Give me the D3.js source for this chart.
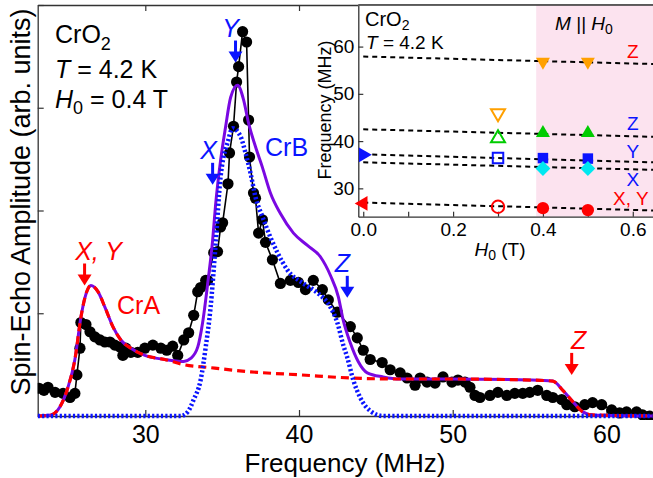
<!DOCTYPE html>
<html>
<head>
<meta charset="utf-8">
<script src="https://cdn.jsdelivr.net/npm/d3@7"></script>
<style>
  body { margin: 0; background: #fff; }
  svg { display: block; font-family: "Liberation Sans", Arial, sans-serif; }
</style>
</head>
<body>
<div id="chart"></div>
<script>
// ---- main spectrum (frequency in MHz, amplitude in arb. units) ----
const echoData = [
  [23.09, 0.27], [23.41, 0.25], [23.67, 0.28], [24.13, 0.23], [24.65, 0.22], [25.10, 0.18],
  [25.42, 0.22], [25.55, 0.40], [25.75, 0.66], [25.81, 0.91], [26.14, 0.89], [26.40, 0.82],
  [26.72, 0.77], [27.05, 0.74], [27.37, 0.72], [27.70, 0.72], [28.02, 0.69], [28.35, 0.67],
  [28.54, 0.59], [28.73, 0.66], [29.06, 0.62], [29.51, 0.62], [29.97, 0.66], [30.49, 0.69],
  [31.01, 0.66], [31.40, 0.64], [31.78, 0.68], [32.11, 0.59], [32.50, 0.74], [32.82, 0.81],
  [33.15, 0.98], [33.41, 1.21], [33.60, 1.25], [33.93, 1.32], [34.06, 1.32], [34.45, 1.59],
  [34.70, 1.60], [34.90, 1.84], [35.03, 1.88], [35.38, 2.26], [35.48, 2.56], [35.74, 2.82],
  [35.94, 3.25], [36.07, 3.40], [36.33, 3.74], [36.59, 3.64], [36.72, 2.88], [36.78, 2.52],
  [37.04, 2.17], [37.17, 2.12], [37.37, 1.78], [37.62, 1.91], [37.82, 1.69], [38.27, 1.52],
  [38.79, 1.29], [39.44, 1.32], [39.96, 1.30], [40.42, 1.23], [40.93, 1.32], [41.52, 1.23],
  [41.91, 1.13], [42.49, 1.01], [43.34, 0.87], [43.79, 0.76], [44.18, 0.64], [44.63, 0.55],
  [45.41, 0.52], [45.93, 0.45], [46.58, 0.42], [47.03, 0.37], [47.55, 0.30], [47.88, 0.37],
  [48.33, 0.33], [48.85, 0.32], [49.37, 0.38], [49.95, 0.33], [50.34, 0.35], [50.80, 0.33],
  [51.12, 0.28], [51.45, 0.20], [51.77, 0.18], [52.42, 0.20], [52.94, 0.23], [53.52, 0.20],
  [54.04, 0.22], [54.56, 0.22], [55.01, 0.23], [55.53, 0.25], [56.12, 0.20], [56.51, 0.18],
  [57.09, 0.16], [57.42, 0.11], [57.94, 0.09], [58.59, 0.11], [59.10, 0.13], [59.69, 0.11],
  [60.34, 0.06], [60.86, 0.03], [61.31, 0.04], [61.96, 0.04], [62.35, 0.01], [62.80, 0.00]
]

const crAFit = [
  [23.0, 0], [23.87, 0.01], [24.45, 0.09], [24.97, 0.28], [25.42, 0.55], [25.81, 0.96],
  [26.07, 1.15], [26.46, 1.27], [26.92, 1.21], [27.37, 1.06], [27.89, 0.87], [28.41, 0.74],
  [29.06, 0.66], [29.97, 0.59], [31.27, 0.55], [32.50, 0.50], [34.25, 0.47], [36.85, 0.43],
  [40.09, 0.40], [43.34, 0.37], [46.58, 0.36], [49.82, 0.36], [55.01, 0.35], [56.51, 0.34],
  [57.16, 0.25], [57.81, 0.14], [58.46, 0.04], [59.10, 0.01], [63.0, 0]
]

const crBFit = [
  [23.0, 0], [32.30, 0], [32.76, 0.04], [33.15, 0.16], [33.60, 0.35], [33.93, 0.67],
  [34.25, 1.06], [34.57, 1.66], [34.90, 2.33], [35.09, 2.52], [35.35, 2.66], [35.68, 2.80],
  [36.20, 2.72], [36.52, 2.56], [36.85, 2.36], [37.17, 2.13], [37.62, 1.94], [38.14, 1.74],
  [38.60, 1.59], [39.25, 1.42], [40.28, 1.29], [41.19, 1.20], [42.04, 1.06], [42.49, 0.91],
  [42.88, 0.69], [43.14, 0.57], [43.53, 0.35], [43.98, 0.18], [44.63, 0.05], [45.47, 0], [63.0, 0]
]

const totalFit = [
  [23.0, 0], [23.87, 0.01], [24.45, 0.09], [24.97, 0.28], [25.42, 0.55], [25.81, 0.96],
  [26.07, 1.15], [26.46, 1.27], [26.92, 1.21], [27.37, 1.06], [27.89, 0.87], [28.41, 0.74],
  [29.06, 0.66], [29.97, 0.59], [31.27, 0.55], [32.50, 0.53], [32.95, 0.56], [33.41, 0.67],
  [33.73, 0.91], [34.06, 1.29], [34.38, 1.71], [34.57, 2.05], [34.90, 2.49], [35.22, 2.81],
  [35.55, 3.10], [36.00, 3.22], [36.39, 3.08], [36.72, 2.85], [37.17, 2.62], [37.62, 2.42],
  [38.14, 2.17], [38.79, 1.97], [39.64, 1.78], [40.55, 1.66], [41.39, 1.55], [42.04, 1.37],
  [42.56, 1.16], [42.88, 0.93], [43.34, 0.71], [43.85, 0.53], [44.44, 0.42], [45.47, 0.38],
  [46.58, 0.36], [49.82, 0.36], [55.01, 0.35], [56.51, 0.34], [57.16, 0.25], [57.81, 0.14],
  [58.46, 0.04], [59.10, 0.01], [63.0, 0]
]

const freqTicks = [30, 40, 50, 60]
const ampTicks = [0, 1, 2, 3, 4]

// arrows: [frequency, amplitude at tip, label, colour]
const mainArrows = [
  [26.05, 1.27, 'X, Y', 'red'],
  [35.87, 3.44, 'Y', 'blue'],
  [34.38, 2.25, 'X', 'blue'],
  [43.14, 1.15, 'Z', 'blue'],
  [57.74, 0.40, 'Z', 'red']
]

// ---- inset: resonance frequency vs field ----
const fieldTicks = [0, 0.2, 0.4, 0.6]
const fieldMinorTicks = [0.1, 0.3, 0.5]
const insetFreqTicks = [30, 40, 50, 60]
const fitField = [0, 0.65]
const fitLines = [[57.9, 56.3], [42.5, 40.9], [37.2, 35.5], [35.5, 33.9], [27.0, 25.3]]
const aligned = 0.385 // M || H0 above this field

const orangeDown = [[0.3, 45.9], [0.4, 56.8], [0.5, 56.8]]
const greenUp = [[0.3, 40.6], [0.4, 41.7], [0.5, 41.7]]
const blueSquare = [[0.3, 36.4], [0.4, 36.4], [0.5, 36.3]]
const cyanDiamond = [[0.4, 34.2], [0.5, 34.2]]
const redCircle = [[0.3, 26.1], [0.4, 25.8], [0.5, 25.4]]
const zeroFieldBlue = [[0, 37.1]]
const zeroFieldRed = [[0, 26.8]]

const insetLabels = [
  [0.6, 57.6, 'Z', 'red', 'middle'],
  [0.6, 42.4, 'Z', 'blue', 'middle'],
  [0.6, 36.4, 'Y', 'blue', 'middle'],
  [0.6, 30.6, 'X', 'blue', 'middle'],
  [0.556, 26.5, 'X, Y', 'red', 'start']
]

const COL = { red: '#ff0000', blue: '#0a14ff', purple: '#7a08e2', orange: '#ffa000', green: '#00cc00', cyan: '#00e8f0', pink: '#fce3ef' }

const width = 653
const height = 478

const svg = d3.select('#chart').append('svg')
  .attr('width', width)
  .attr('height', height)

const x = d3.scaleLinear().domain([23, 63.03]).range([37.7, 653])
const y = d3.scaleLinear().domain([0, 4]).range([416, 5])

svg.append('defs').append('clipPath').attr('id', 'plotClip')
  .append('rect').attr('x', 37.7).attr('y', 0).attr('width', width - 37.7).attr('height', 420)

// axes (ticks point inward)
const axisStyle = g => {
  g.selectAll('.domain').attr('stroke', '#333').attr('stroke-width', 1.3)
  g.selectAll('.tick line').attr('stroke', '#333').attr('stroke-width', 1.2)
}

svg.append('g')
  .attr('transform', `translate(0,${y(0)})`)
  .call(d3.axisBottom(x).tickValues(freqTicks).tickSizeInner(-6).tickSizeOuter(0).tickPadding(9))
  .call(axisStyle)
  .call(g => g.selectAll('.tick text').attr('font-size', 25).attr('fill', '#000')
    .attr('font-family', '"Liberation Sans", Arial, sans-serif'))

svg.append('g')
  .attr('transform', `translate(0,${y(4)})`)
  .call(d3.axisTop(x).tickValues(freqTicks).tickSizeInner(-6).tickSizeOuter(0).tickFormat(''))
  .call(axisStyle)

svg.append('g')
  .attr('transform', `translate(${x.range()[0]},0)`)
  .call(d3.axisLeft(y).tickValues(ampTicks).tickSizeInner(-6).tickSizeOuter(0).tickFormat(''))
  .call(axisStyle)

svg.append('text')
  .attr('x', 345).attr('y', 472)
  .attr('text-anchor', 'middle')
  .attr('font-size', 26)
  .text('Frequency (MHz)')

svg.append('text')
  .attr('transform', 'translate(30,202) rotate(-90)')
  .attr('text-anchor', 'middle')
  .attr('font-size', 27)
  .text('Spin-Echo Amplitude (arb. units)')

// data
const plot = svg.append('g').attr('clip-path', 'url(#plotClip)')
const line = d3.line().x(d => x(d[0])).y(d => y(d[1]))
const smooth = d3.line().x(d => x(d[0])).y(d => y(d[1])).curve(d3.curveMonotoneX)

plot.append('path').datum(echoData)
  .attr('d', line).attr('fill', 'none').attr('stroke', '#000').attr('stroke-width', 1.6)

plot.selectAll('.dot').data(echoData).enter().append('circle')
  .attr('class', 'dot')
  .attr('cx', d => x(d[0])).attr('cy', d => y(d[1]))
  .attr('r', 5.6).attr('fill', '#000')

plot.append('path').datum(totalFit)
  .attr('d', smooth).attr('fill', 'none').attr('stroke', COL.purple).attr('stroke-width', 3)

plot.append('path').datum(crAFit)
  .attr('d', smooth).attr('fill', 'none').attr('stroke', COL.red).attr('stroke-width', 3.2)
  .attr('stroke-dasharray', '8,5')

plot.append('path').datum(crBFit)
  .attr('d', smooth).attr('fill', 'none').attr('stroke', COL.blue).attr('stroke-width', 4.5)
  .attr('stroke-dasharray', '2.2,2.2')

// arrows with labels
mainArrows.forEach(([f, a, label, c]) => {
  const tx = x(f)
  const ty = y(a)
  const g = svg.append('g').attr('fill', COL[c])
  g.append('rect').attr('x', tx - 1.5).attr('y', ty - 22).attr('width', 3).attr('height', 14)
  g.append('path').attr('d', `M${tx - 7},${ty - 11}L${tx + 7},${ty - 11}L${tx},${ty}Z`)
  const lbl = g.append('text')
    .attr('x', tx - 5).attr('y', ty - 26)
    .attr('text-anchor', 'middle')
    .attr('font-size', 25)
    .attr('font-style', 'italic')
    .text(label)
  if (label === 'X, Y') lbl.attr('x', tx + 14)
  if (label === 'X') lbl.attr('x', tx - 4)
  if (c === 'red' && label === 'Z') lbl.attr('x', tx + 7)
})

svg.append('text').attr('x', 117).attr('y', 314).attr('font-size', 25).attr('fill', COL.red).text('CrA')
svg.append('text').attr('x', 265).attr('y', 156).attr('font-size', 25).attr('fill', COL.blue).text('CrB')

// sample info
const info = svg.append('g').attr('font-size', 25)
const t1 = info.append('text').attr('x', 55).attr('y', 43)
t1.append('tspan').text('CrO')
t1.append('tspan').attr('font-size', 18).attr('dy', 7).text('2')
const t2 = info.append('text').attr('x', 55).attr('y', 78)
t2.append('tspan').attr('font-style', 'italic').text('T')
t2.append('tspan').text(' = 4.2 K')
const t3 = info.append('text').attr('x', 55).attr('y', 108)
t3.append('tspan').attr('font-style', 'italic').text('H')
t3.append('tspan').attr('font-size', 18).attr('dy', 6).text('0')
t3.append('tspan').attr('dy', -6).text(' = 0.4 T')

// ---- inset ----
const ix = d3.scaleLinear().domain([-0.011, 0.645]).range([358.3, 653])
const iy = d3.scaleLinear().domain([24, 68.8]).range([216.7, 5])
const inset = svg.append('g')

inset.append('rect')
  .attr('x', ix.range()[0]).attr('y', iy.range()[1])
  .attr('width', ix.range()[1] - ix.range()[0]).attr('height', iy.range()[0] - iy.range()[1])
  .attr('fill', '#fff')
inset.append('rect')
  .attr('x', ix(aligned)).attr('y', iy.range()[1])
  .attr('width', ix.range()[1] - ix(aligned)).attr('height', iy.range()[0] - iy.range()[1])
  .attr('fill', COL.pink)

inset.append('g')
  .attr('transform', `translate(0,${iy.range()[0]})`)
  .call(d3.axisBottom(ix).tickValues(fieldTicks.concat(fieldMinorTicks)).tickSizeInner(-5).tickSizeOuter(0).tickPadding(6)
    .tickFormat(d => fieldTicks.includes(d) ? d3.format('.1f')(d) : ''))
  .call(axisStyle)
  .call(g => g.selectAll('.tick text').attr('font-size', 19).attr('fill', '#000')
    .attr('font-family', '"Liberation Sans", Arial, sans-serif'))

inset.append('g')
  .attr('transform', `translate(${ix.range()[0]},0)`)
  .call(d3.axisLeft(iy).tickValues(insetFreqTicks).tickSizeInner(-5).tickSizeOuter(0).tickPadding(4))
  .call(axisStyle)
  .call(g => g.selectAll('.tick text').attr('font-size', 19).attr('fill', '#000')
    .attr('font-family', '"Liberation Sans", Arial, sans-serif'))

inset.append('line')
  .attr('x1', ix.range()[0]).attr('x2', ix.range()[1])
  .attr('y1', iy.range()[1]).attr('y2', iy.range()[1])
  .attr('stroke', '#333').attr('stroke-width', 1.3)

inset.append('text')
  .attr('transform', 'translate(331,110) rotate(-90)')
  .attr('text-anchor', 'middle')
  .attr('font-size', 18)
  .text('Frequency (MHz)')

const hl = inset.append('text').attr('x', 500).attr('y', 256).attr('text-anchor', 'middle').attr('font-size', 19)
hl.append('tspan').attr('font-style', 'italic').text('H')
hl.append('tspan').attr('font-size', 14).attr('dy', 4).text('0')
hl.append('tspan').attr('dy', -4).text(' (T)')

const c1 = inset.append('text').attr('x', 365).attr('y', 26).attr('font-size', 20)
c1.append('tspan').text('CrO')
c1.append('tspan').attr('font-size', 14).attr('dy', 4).text('2')
const c2 = inset.append('text').attr('x', 366).attr('y', 49).attr('font-size', 19)
c2.append('tspan').attr('font-style', 'italic').text('T')
c2.append('tspan').text(' = 4.2 K')

const mh = inset.append('text').attr('x', 584).attr('y', 30).attr('text-anchor', 'middle').attr('font-size', 19)
mh.append('tspan').attr('font-style', 'italic').text('M')
mh.append('tspan').text(' || ')
mh.append('tspan').attr('font-style', 'italic').text('H')
mh.append('tspan').attr('font-size', 14).attr('dy', 4).text('0')

const ig = inset.append('g')
fitLines.forEach(v => {
  ig.append('line')
    .attr('x1', ix(fitField[0])).attr('x2', ix(fitField[1]))
    .attr('y1', iy(v[0])).attr('y2', iy(v[1]))
    .attr('stroke', '#000').attr('stroke-width', 2).attr('stroke-dasharray', '5,4')
})

const drawMarkers = (data, type, size, rotate, color) => {
  ig.selectAll(null).data(data).enter().append('path')
    .attr('d', d3.symbol().type(type).size(size))
    .attr('transform', d => `translate(${ix(d[0])},${iy(d[1])}) rotate(${rotate})`)
    .attr('fill', d => (d[0] > 0.05 && d[0] < aligned) ? 'none' : color)
    .attr('stroke', color)
    .attr('stroke-width', d => (d[0] > 0.05 && d[0] < aligned) ? 2 : 0)
}

drawMarkers(orangeDown, d3.symbolTriangle, 85, 180, COL.orange)
drawMarkers(greenUp, d3.symbolTriangle, 85, 0, COL.green)
drawMarkers(blueSquare, d3.symbolSquare, 110, 0, COL.blue)
drawMarkers(cyanDiamond, d3.symbolSquare, 110, 45, COL.cyan)
drawMarkers(redCircle, d3.symbolCircle, 120, 0, COL.red)
drawMarkers(zeroFieldBlue, d3.symbolTriangle, 95, 90, COL.blue)
drawMarkers(zeroFieldRed, d3.symbolTriangle, 95, -90, COL.red)

insetLabels.forEach(([h, f, label, c, anchor]) => {
  inset.append('text')
    .attr('x', ix(h)).attr('y', iy(f))
    .attr('text-anchor', anchor)
    .attr('font-size', 19)
    .attr('fill', COL[c])
    .text(label)
})
</script>
</body>
</html>
